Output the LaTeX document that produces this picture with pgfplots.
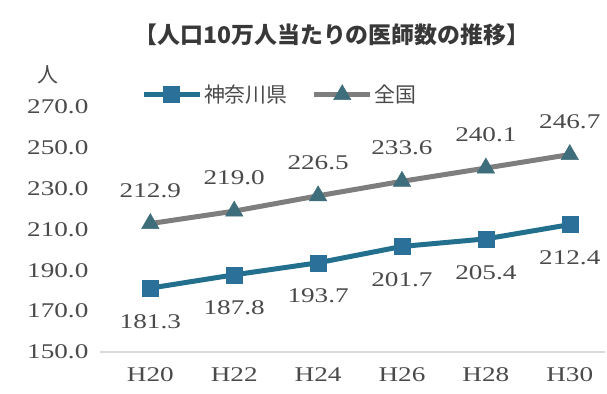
\documentclass[border=0pt]{standalone}
\usepackage{pgfplots}
\pgfplotsset{compat=1.18}
\usepackage{fontspec}
\setmainfont{Noto Sans CJK JP}
\newfontfamily\jpfont{Noto Sans CJK JP}
\newfontfamily\numfont[FakeStretch=1.3]{Liberation Serif}
\definecolor{kana}{HTML}{236F8E}
\definecolor{kanam}{HTML}{2A7099}
\definecolor{zen}{HTML}{7E7E7E}
\definecolor{zenm}{HTML}{3E6E7C}
\definecolor{txt}{HTML}{4A4A4A}
\begin{document}
\begin{tikzpicture}
\useasboundingbox (0,0) rectangle (607bp,394bp);
\node[font=\jpfont\bfseries\fontsize{23}{25}\selectfont, text=black!78] at (332bp,359bp) {【人口10万人当たりの医師数の推移】};
\node[font=\jpfont\fontsize{21}{23}\selectfont, text=txt] at (48bp,319bp) {人};
\begin{axis}[
  at={(100bp,42bp)}, anchor=south west,
  width=505bp, height=245bp, scale only axis,
  xmin=-0.6, xmax=5.42, ymin=150, ymax=270,
  axis lines=left, axis line style={-},
  y axis line style={draw=none},
  x axis line style={draw=black!15, line width=1.5bp},
  tick style={draw=none},
  xtick={0,1,2,3,4,5},
  xticklabels={H20,H22,H24,H26,H28,H30},
  ytick={150,170,190,210,230,250,270},
  yticklabels={150.0,170.0,190.0,210.0,230.0,250.0,270.0},
  ticklabel style={font=\numfont\fontsize{21}{23}\selectfont, text=txt},
  yticklabel style={anchor=east, xshift=-6bp},
  xticklabel style={anchor=north, yshift=-10bp},
  clip=false,
  legend columns=2,
  legend style={draw=none, fill=none, at={(0.075,1.05)}, anchor=west,
    font=\jpfont\fontsize{21}{23}\selectfont, text=txt,
    /tikz/every even column/.append style={column sep=22bp}},
  legend image code/.code={\draw[#1, mark repeat=2, mark phase=2] plot coordinates {(0bp,0bp) (28bp,0bp) (56bp,0bp)};},
  nodes near coords,
  point meta=explicit symbolic,
]
\addplot[color=kana, line width=5bp, mark=square*, mark size=8bp,
  mark options={fill=kanam, draw=kanam, line width=0.5bp},
  every node near coord/.style={font=\numfont\fontsize{21}{23}\selectfont, text=txt, anchor=north, inner sep=0pt, yshift=-26bp}]
  coordinates {(0,181.3)[181.3] (1,187.8)[187.8] (2,193.7)[193.7] (3,201.7)[201.7] (4,205.4)[205.4] (5,212.4)[212.4]};
\addlegendentry{神奈川県}
\addplot[color=zen, line width=5bp, mark=triangle*, mark size=10bp,
  mark options={fill=zenm, draw=zenm, line width=0.5bp},
  every node near coord/.style={font=\numfont\fontsize{21}{23}\selectfont, text=txt, anchor=south, inner sep=0pt, yshift=26bp}]
  coordinates {(0,212.9)[212.9] (1,219.0)[219.0] (2,226.5)[226.5] (3,233.6)[233.6] (4,240.1)[240.1] (5,246.7)[246.7]};
\addlegendentry{全国}
\end{axis}
\end{tikzpicture}
\end{document}
